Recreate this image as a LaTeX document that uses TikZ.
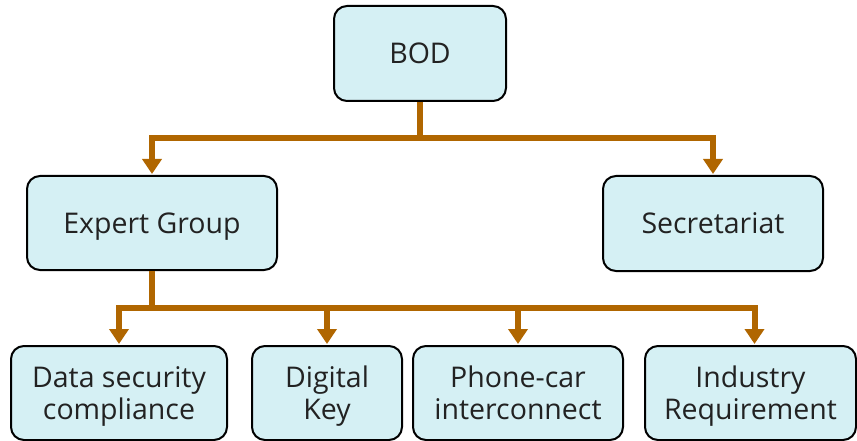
\documentclass[tikz,border=0pt]{standalone}
\usepackage{fontspec}
\setmainfont{Open Sans}
\usetikzlibrary{arrows.meta}
\definecolor{boxfill}{RGB}{213,240,244}
\definecolor{linkc}{RGB}{176,102,0}
\definecolor{txt}{RGB}{34,34,34}
\tikzset{
  unit/.style={draw=black, line width=2pt, fill=boxfill, rounded corners=13pt,
    text=txt, font=\fontsize{28.5}{32}\selectfont, align=center,
    inner sep=0pt, minimum height=94pt, text depth=0pt, text height=20.5pt},
  twoline/.style={text height=52.5pt},
  link/.style={draw=linkc, line width=6pt},
  arrowlink/.style={link, -{Triangle[width=19pt,length=15pt]}, shorten >=1pt},
}
\begin{document}
\begin{tikzpicture}[x=1pt,y=-1pt]
  \useasboundingbox (0,0) rectangle (857,441);
  % top level
  \node[unit, minimum width=172pt, minimum height=95pt] (bod) at (420,53.5) {BOD};
  % second level
  \node[unit, minimum width=250pt] (exp) at (152,223) {Expert Group};
  \node[unit, minimum width=220pt, minimum height=95pt] (sec) at (713,223.5) {Secretariat};
  % working groups
  \node[unit, twoline, minimum width=216pt] (dsc) at (119,393) {Data security\\compliance};
  \node[unit, twoline, minimum width=150pt] (dkey) at (327,393) {Digital\\Key};
  \node[unit, twoline, minimum width=210pt] (pci) at (518,393) {Phone-car\\interconnect};
  \node[unit, twoline, minimum width=211pt] (ind) at (750.5,393) {Industry\\Requirement};
  % junctions of the tree
  \coordinate (j1) at (420,138);
  \coordinate (j2) at (152,308);
  % connectors
  \draw[link] (bod.south) -- (j1);
  \draw[arrowlink] (j1) -| (exp.north);
  \draw[arrowlink] (j1) -| (sec.north);
  \draw[link] (exp.south) -- (j2);
  \draw[arrowlink] (j2) -| (dsc.north);
  \draw[arrowlink] (j2) -| (dkey.north);
  \draw[arrowlink] (j2) -| (pci.north);
  \draw[arrowlink] (j2) -| ([xshift=4pt]ind.north);
\end{tikzpicture}
\end{document}
